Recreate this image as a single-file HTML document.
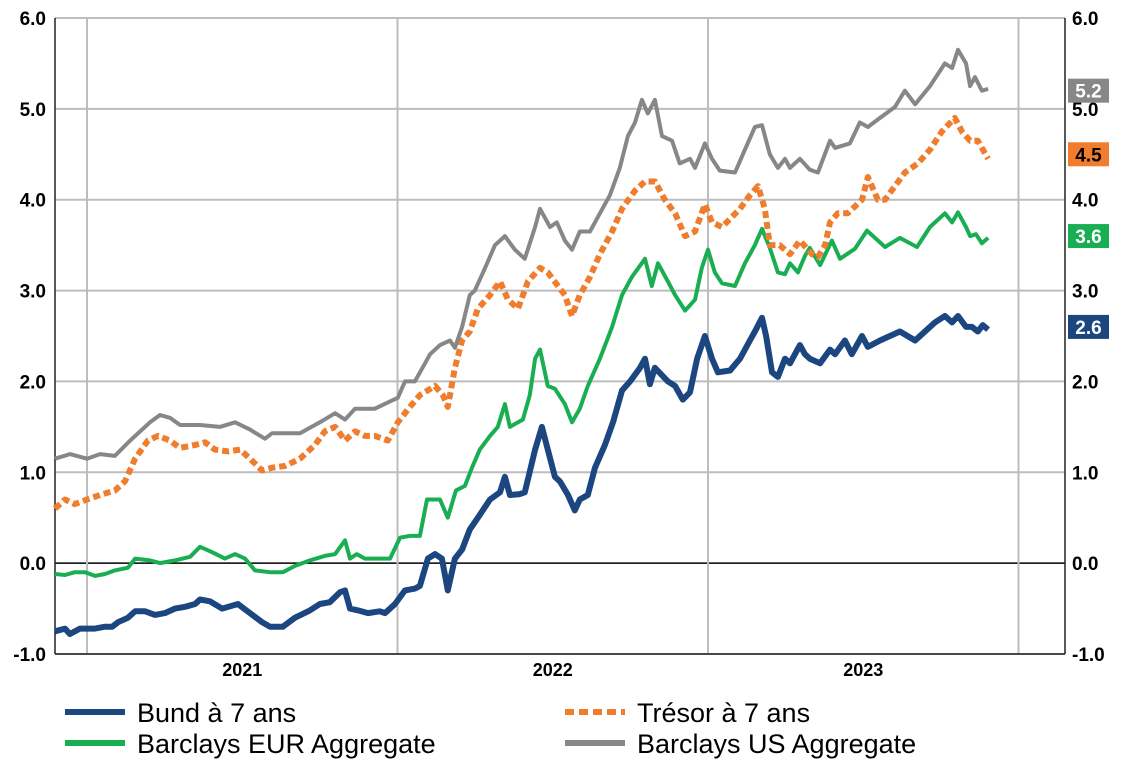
<!DOCTYPE html>
<html><head><meta charset="utf-8"><style>
body{margin:0;background:#fff;font-family:"Liberation Sans",Arial,sans-serif}
svg text{font-family:"Liberation Sans",Arial,sans-serif}
</style></head><body>
<svg id="c" width="1129" height="778" xmlns="http://www.w3.org/2000/svg">
<g id="grid"></g><g id="series"></g><g id="labels"></g><g id="legend"></g>
</svg>
<script>
const yTicks=[-1,0,1,2,3,4,5,6];
const tickLabels=["-1.0","0.0","1.0","2.0","3.0","4.0","5.0","6.0"];
const yearGrid=[2021,2022,2023,2024];
const yearLabels=["2021","2022","2023"];
const seriesNames=["Barclays US Aggregate","Trésor à 7 ans","Barclays EUR Aggregate","Bund à 7 ans"];
const lastValues=["5.2","4.5","3.6","2.6"];
const usDates=[2020.897,2020.945,2021.000,2021.042,2021.090,2021.139,2021.203,2021.235,2021.267,2021.300,2021.364,2021.428,2021.477,2021.525,2021.573,2021.596,2021.686,2021.750,2021.799,2021.831,2021.863,2021.927,2021.976,2022.001,2022.024,2022.056,2022.105,2022.137,2022.169,2022.185,2022.208,2022.233,2022.249,2022.282,2022.314,2022.346,2022.378,2022.410,2022.443,2022.459,2022.491,2022.513,2022.539,2022.562,2022.587,2022.620,2022.652,2022.684,2022.716,2022.742,2022.765,2022.787,2022.806,2022.829,2022.852,2022.884,2022.909,2022.942,2022.958,2022.990,2023.013,2023.038,2023.087,2023.119,2023.151,2023.174,2023.199,2023.225,2023.248,2023.264,2023.296,2023.328,2023.354,2023.393,2023.409,2023.457,2023.489,2023.515,2023.554,2023.602,2023.634,2023.667,2023.715,2023.763,2023.786,2023.805,2023.831,2023.844,2023.860,2023.882,2023.902];
const usValues=[1.15,1.2,1.15,1.2,1.18,1.35,1.55,1.63,1.6,1.52,1.52,1.5,1.55,1.47,1.37,1.43,1.43,1.55,1.65,1.58,1.7,1.7,1.78,1.82,2.0,2.0,2.3,2.4,2.45,2.37,2.6,2.95,3.0,3.25,3.5,3.6,3.45,3.35,3.7,3.9,3.7,3.75,3.55,3.45,3.65,3.65,3.85,4.05,4.35,4.7,4.85,5.1,4.95,5.1,4.7,4.65,4.4,4.45,4.35,4.62,4.45,4.32,4.3,4.55,4.8,4.82,4.5,4.35,4.45,4.35,4.45,4.33,4.3,4.65,4.57,4.62,4.85,4.8,4.9,5.02,5.2,5.05,5.25,5.5,5.45,5.65,5.5,5.25,5.35,5.2,5.22];
const frDates=[2020.897,2020.929,2020.961,2021.000,2021.042,2021.090,2021.122,2021.155,2021.196,2021.229,2021.267,2021.299,2021.348,2021.380,2021.412,2021.454,2021.493,2021.525,2021.564,2021.596,2021.638,2021.686,2021.734,2021.766,2021.799,2021.831,2021.863,2021.895,2021.927,2021.969,2022.001,2022.040,2022.072,2022.121,2022.146,2022.162,2022.185,2022.208,2022.233,2022.259,2022.298,2022.330,2022.356,2022.388,2022.420,2022.459,2022.484,2022.517,2022.539,2022.562,2022.587,2022.620,2022.652,2022.691,2022.723,2022.765,2022.797,2022.829,2022.861,2022.894,2022.926,2022.958,2022.990,2023.013,2023.045,2023.103,2023.135,2023.161,2023.183,2023.199,2023.231,2023.264,2023.296,2023.335,2023.354,2023.377,2023.393,2023.418,2023.450,2023.496,2023.515,2023.547,2023.570,2023.602,2023.634,2023.676,2023.715,2023.753,2023.795,2023.818,2023.844,2023.869,2023.902];
const frValues=[0.6,0.7,0.65,0.7,0.75,0.8,0.9,1.15,1.35,1.4,1.35,1.27,1.3,1.33,1.25,1.23,1.25,1.15,1.02,1.05,1.07,1.15,1.3,1.45,1.5,1.35,1.45,1.4,1.4,1.35,1.55,1.72,1.85,1.95,1.85,1.72,2.15,2.45,2.55,2.8,2.95,3.1,2.9,2.8,3.1,3.25,3.2,3.05,2.95,2.72,2.95,3.15,3.4,3.65,3.9,4.1,4.2,4.2,4.0,3.85,3.6,3.65,3.95,3.75,3.7,3.9,4.05,4.15,3.9,3.5,3.5,3.4,3.55,3.4,3.37,3.5,3.75,3.85,3.85,4.0,4.25,4.0,4.0,4.15,4.3,4.4,4.55,4.75,4.9,4.75,4.65,4.65,4.45];
const euDates=[2020.897,2020.929,2020.961,2020.994,2021.026,2021.058,2021.090,2021.132,2021.155,2021.203,2021.235,2021.283,2021.332,2021.364,2021.403,2021.444,2021.477,2021.509,2021.541,2021.589,2021.631,2021.670,2021.718,2021.766,2021.799,2021.831,2021.847,2021.869,2021.895,2021.943,2021.976,2022.008,2022.040,2022.072,2022.095,2022.114,2022.137,2022.162,2022.188,2022.217,2022.240,2022.265,2022.298,2022.323,2022.346,2022.362,2022.388,2022.404,2022.426,2022.443,2022.459,2022.484,2022.507,2022.539,2022.562,2022.587,2022.613,2022.652,2022.691,2022.723,2022.755,2022.797,2022.819,2022.839,2022.871,2022.894,2022.926,2022.958,2022.980,2023.000,2023.022,2023.045,2023.087,2023.119,2023.151,2023.174,2023.199,2023.225,2023.248,2023.264,2023.290,2023.312,2023.328,2023.361,2023.399,2023.425,2023.473,2023.512,2023.570,2023.618,2023.673,2023.715,2023.763,2023.786,2023.805,2023.831,2023.844,2023.863,2023.882,2023.902];
const euValues=[-0.12,-0.13,-0.1,-0.1,-0.14,-0.12,-0.08,-0.05,0.05,0.03,0.0,0.03,0.07,0.18,0.12,0.05,0.1,0.05,-0.08,-0.1,-0.1,-0.03,0.03,0.08,0.1,0.25,0.05,0.1,0.05,0.05,0.05,0.28,0.3,0.3,0.7,0.7,0.7,0.5,0.8,0.85,1.05,1.25,1.4,1.5,1.75,1.5,1.55,1.58,1.85,2.25,2.35,1.95,1.92,1.75,1.55,1.7,1.95,2.25,2.6,2.95,3.15,3.35,3.05,3.3,3.1,2.95,2.78,2.9,3.25,3.45,3.2,3.08,3.05,3.3,3.5,3.68,3.47,3.2,3.18,3.3,3.2,3.38,3.47,3.28,3.55,3.35,3.46,3.66,3.48,3.58,3.48,3.7,3.85,3.75,3.86,3.7,3.6,3.62,3.52,3.58];
const deDates=[2020.897,2020.929,2020.945,2020.977,2021.026,2021.058,2021.081,2021.100,2021.132,2021.155,2021.187,2021.219,2021.251,2021.283,2021.316,2021.348,2021.364,2021.396,2021.435,2021.467,2021.486,2021.525,2021.564,2021.589,2021.631,2021.670,2021.718,2021.750,2021.782,2021.815,2021.831,2021.847,2021.873,2021.905,2021.943,2021.960,2021.992,2022.024,2022.056,2022.072,2022.098,2022.121,2022.143,2022.162,2022.185,2022.208,2022.233,2022.259,2022.298,2022.330,2022.346,2022.362,2022.394,2022.410,2022.443,2022.465,2022.484,2022.507,2022.523,2022.549,2022.571,2022.587,2022.613,2022.636,2022.668,2022.694,2022.723,2022.749,2022.781,2022.797,2022.813,2022.829,2022.871,2022.894,2022.919,2022.942,2022.965,2022.990,2023.013,2023.032,2023.071,2023.103,2023.135,2023.151,2023.174,2023.187,2023.206,2023.225,2023.248,2023.264,2023.296,2023.312,2023.328,2023.361,2023.393,2023.409,2023.441,2023.463,2023.496,2023.515,2023.554,2023.618,2023.667,2023.731,2023.763,2023.786,2023.805,2023.831,2023.850,2023.869,2023.885,2023.902];
const deValues=[-0.75,-0.72,-0.78,-0.72,-0.72,-0.7,-0.7,-0.65,-0.6,-0.53,-0.53,-0.57,-0.55,-0.5,-0.48,-0.45,-0.4,-0.42,-0.5,-0.47,-0.45,-0.55,-0.65,-0.7,-0.7,-0.6,-0.52,-0.45,-0.43,-0.32,-0.3,-0.5,-0.52,-0.55,-0.53,-0.55,-0.45,-0.3,-0.28,-0.25,0.05,0.1,0.05,-0.3,0.05,0.15,0.37,0.5,0.7,0.78,0.95,0.75,0.76,0.78,1.25,1.5,1.25,0.95,0.9,0.75,0.58,0.7,0.75,1.05,1.3,1.55,1.9,2.0,2.15,2.25,1.97,2.15,2.0,1.95,1.8,1.88,2.25,2.5,2.25,2.1,2.12,2.25,2.45,2.55,2.7,2.5,2.1,2.05,2.25,2.2,2.4,2.3,2.25,2.2,2.35,2.3,2.45,2.3,2.5,2.38,2.45,2.55,2.45,2.65,2.72,2.65,2.72,2.6,2.6,2.55,2.62,2.57];

const NS="http://www.w3.org/2000/svg";
const L=55,R=1065,T=18,B=654,ymin=-1,ymax=6;
const yS=v=>B-(v-ymin)/(ymax-ymin)*(B-T);
const xS=t=>87+(t-2021)*310.5;
function mk(tag,attrs,parent){const e=document.createElementNS(NS,tag);for(const k in attrs)e.setAttribute(k,attrs[k]);parent.appendChild(e);return e;}
const grid=document.getElementById('grid'),ser=document.getElementById('series'),lab=document.getElementById('labels'),leg=document.getElementById('legend');
yTicks.forEach((v,i)=>{
  const ln=mk('line',{x1:L,x2:R,y1:yS(v),y2:yS(v),stroke:v===0?'#000':'#bdbdbd','stroke-width':v===0?1.5:2},grid);
  
  
  const t1=mk('text',{x:46,y:yS(v)+7,'text-anchor':'end','font-size':19,'font-weight':'bold',fill:'#000'},lab);
  t1.textContent=tickLabels[i];
  
  
  const t2=mk('text',{x:1072,y:yS(v)+7,'font-size':19,'font-weight':'bold',fill:'#000'},lab);
  t2.textContent=tickLabels[i];
  
  
});
yearGrid.forEach(y=>{
  const ln=mk('line',{x1:xS(y),x2:xS(y),y1:T,y2:B,stroke:'#bdbdbd','stroke-width':2},grid);
  
  
});
yearLabels.forEach((s,i)=>{
  const t=mk('text',{x:(xS(yearGrid[i])+xS(yearGrid[i+1]))/2,y:676,'text-anchor':'middle','font-size':18,'font-weight':'bold'},lab);
  t.textContent=s;
  
  
});
[[L,T,L,B],[R,T,R,B],[L,B,R,B]].forEach(a=>{
  const ln=mk('line',{x1:a[0],y1:a[1],x2:a[2],y2:a[3],stroke:'#222','stroke-width':1.5},grid);
  
  
});
const specs=[[usDates,usValues,'#878787',4,null,'#878787','#fff'],[frDates,frValues,'#ef7d2d',6,'7 4','#ef7d2d','#000'],[euDates,euValues,'#1aae52',4,null,'#1aae52','#fff'],[deDates,deValues,'#1b4680',6,null,'#1b4680','#fff']];
const ids=['us-aggregate-line','tresor-7y-line','eur-aggregate-line','bund-7y-line'];
[3,2,1,0].forEach(i=>{
  const s=specs[i];
  const d=s[0].map((t,j)=>(j?'L':'M')+xS(t).toFixed(1)+','+yS(s[1][j]).toFixed(1)).join('');
  const p=mk('path',{d:d,fill:'none',stroke:s[2],'stroke-width':s[3],'stroke-linejoin':'round'},ser);
  if(s[4])p.setAttribute('stroke-dasharray',s[4]);
  
  
  const v=parseFloat(lastValues[i]),cy=yS(v);
  const r=mk('rect',{x:1068,y:cy-12,width:41,height:24,fill:s[5]},lab);
  
  
  const t=mk('text',{x:1088.5,y:cy+7,'text-anchor':'middle','font-size':19,'font-weight':'bold',fill:s[6]},lab);
  t.textContent=lastValues[i];
  
  
});
const legPos=[[565,743],[565,712],[65,743],[65,712]];
[3,1,2,0].forEach(i=>{
  const s=specs[i],pos=legPos[i];
  const ln=mk('line',{x1:pos[0],x2:pos[0]+60,y1:pos[1],y2:pos[1],stroke:s[2],'stroke-width':6},leg);
  if(s[4])ln.setAttribute('stroke-dasharray','9 5');
  
  
  const t=mk('text',{x:pos[0]+72,y:pos[1]+10,'font-size':27,fill:'#000'},leg);
  t.textContent=seriesNames[i];
  
  
});
</script>
</body></html>
